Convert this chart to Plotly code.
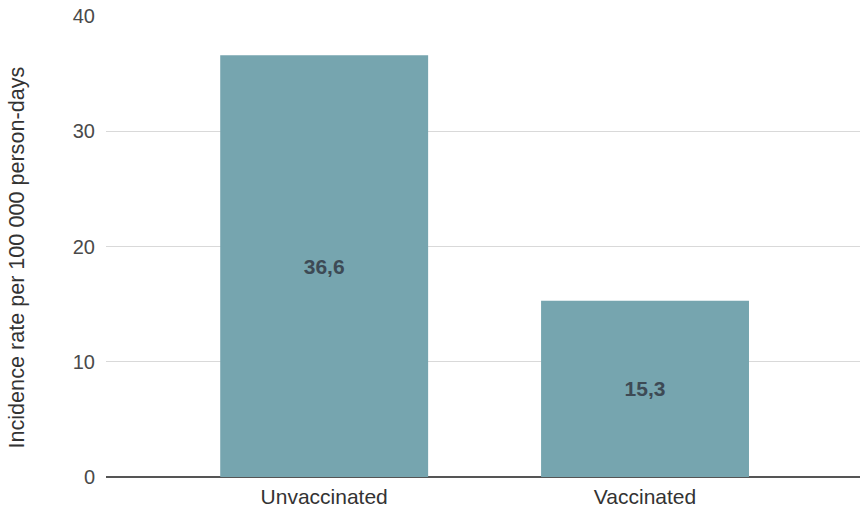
import plotly.graph_objects as go

groups = ["Unvaccinated", "Vaccinated"]
incidence = [36.6, 15.3]
value_labels = ["36,6", "15,3"]
y_ticks = [0, 10, 20, 30, 40]
y_title = "Incidence rate per 100 000 person-days"

fig = go.Figure(
    go.Bar(
        x=groups,
        y=incidence,
        text=value_labels,
        textposition="inside",
        insidetextanchor="middle",
        textangle=0,
        textfont=dict(family="Liberation Sans, Arial", size=21, color="#3d4a55", weight="bold"),
        marker=dict(color="#76a5af", line=dict(width=0)),
        width=0.648,
        hoverinfo="skip",
    )
)

fig.update_layout(
    width=863,
    height=508,
    margin=dict(l=106, r=3, t=16, b=31),
    paper_bgcolor="white",
    plot_bgcolor="white",
    showlegend=False,
    font=dict(family="Liberation Sans, Arial", color="#444444"),
)

fig.update_xaxes(
    range=[-0.68, 1.67],
    tickfont=dict(size=21, color="#333333"),
    showgrid=False,
    ticks="",
    ticklabelstandoff=5,
    automargin=False,
)

fig.update_yaxes(
    range=[0, 40],
    tickvals=y_ticks,
    tickfont=dict(size=20, color="#4a4a4a"),
    showgrid=True,
    gridcolor="#d9d9d9",
    gridwidth=1,
    zeroline=True,
    zerolinecolor="#555555",
    zerolinewidth=2,
    ticks="",
    ticklabelstandoff=10,
    automargin=False,
)

# Rotated y-axis title, placed to the left of the tick labels
fig.add_annotation(
    text=y_title,
    textangle=-90,
    xref="paper",
    yref="paper",
    x=-(106 - 16) / 754,
    y=(477 - 257.5) / 461,
    xanchor="center",
    yanchor="middle",
    showarrow=False,
    font=dict(size=21.6, color="#333333"),
)

fig.write_html("out.html")
